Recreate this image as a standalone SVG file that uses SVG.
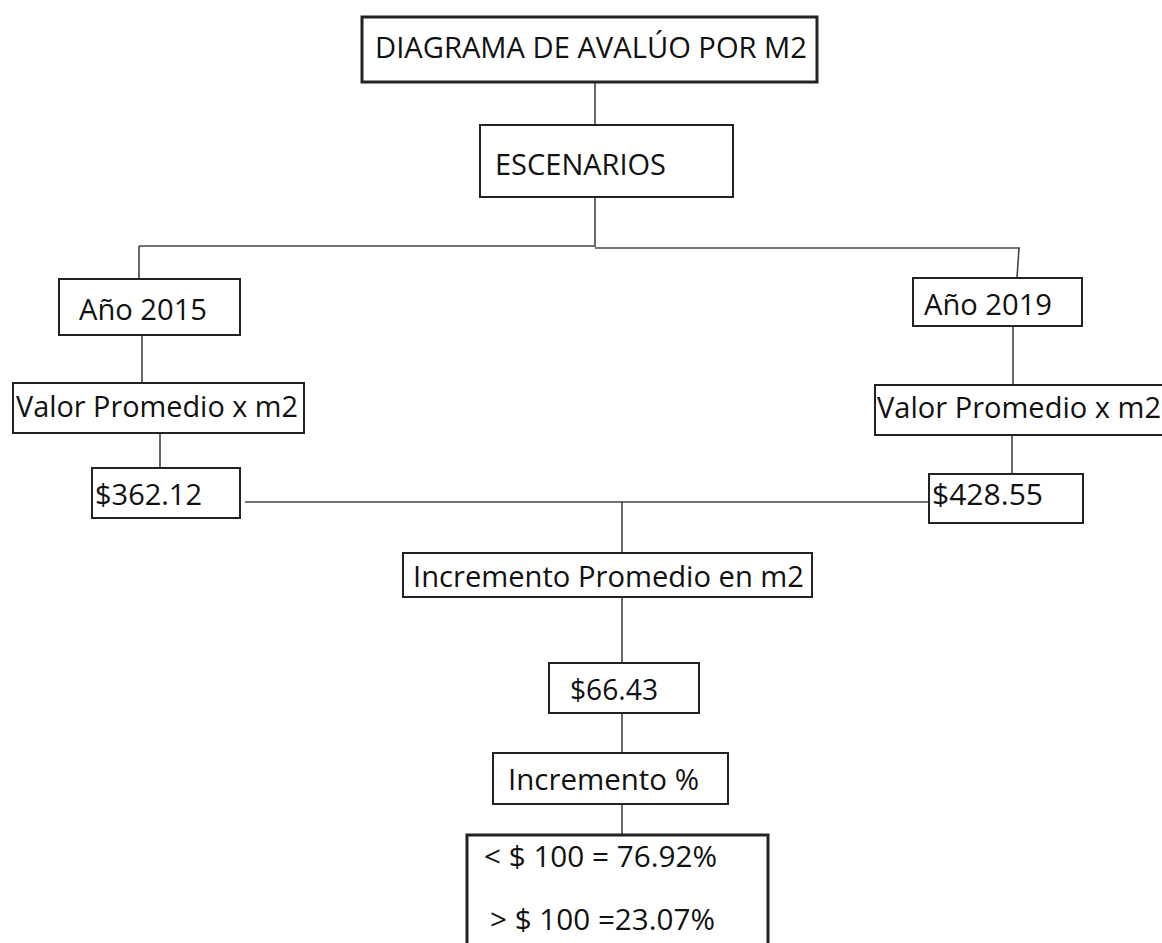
<svg xmlns="http://www.w3.org/2000/svg" width="1162" height="943" viewBox="0 0 1162 943">
<style>
.box{fill:#fff;stroke:#222;stroke-width:2}
.bold{stroke-width:3}
.t{font-family:"Open Sans","Noto Sans","Liberation Sans",sans-serif;font-size:29px;fill:#111}
.c{fill:none;stroke:#444;stroke-width:1.6}
</style>
<rect width="1162" height="943" fill="#fff"/>
<g id="connectors">
<path class="c" d="M595 82V125"/>
<path class="c" d="M595 197V247"/>
<path class="c" d="M139 246H595"/>
<path class="c" d="M595 248H1020"/>
<path class="c" d="M139 246V279"/>
<path class="c" d="M1019 248L1017 278"/>
<path class="c" d="M142 335V383"/>
<path class="c" d="M1013 326V385"/>
<path class="c" d="M160 433V468"/>
<path class="c" d="M1012 435V474"/>
<path class="c" d="M245 502H933"/>
<path class="c" d="M622 502V553"/>
<path class="c" d="M622 597V663"/>
<path class="c" d="M622 713V753"/>
<path class="c" d="M622 804V835"/>
</g>
<g id="title">
<rect class="box bold" x="362" y="17" width="455" height="65"/>
<text class="t" x="375" y="58" font-size="32" textLength="432" lengthAdjust="spacingAndGlyphs">DIAGRAMA DE AVALÚO POR M2</text>
</g>
<g id="escenarios">
<rect class="box" x="480" y="125" width="253" height="72"/>
<text class="t" x="495" y="175" textLength="171" lengthAdjust="spacingAndGlyphs">ESCENARIOS</text>
</g>
<g id="anio2015">
<rect class="box" x="59" y="279" width="181" height="56"/>
<text class="t" x="79" y="320" textLength="128" lengthAdjust="spacingAndGlyphs">Año 2015</text>
</g>
<g id="valor2015">
<rect class="box" x="13" y="383" width="291" height="50"/>
<text class="t" x="16" y="417" textLength="282" lengthAdjust="spacingAndGlyphs">Valor Promedio x m2</text>
</g>
<g id="v362">
<rect class="box" x="92" y="468" width="148" height="50"/>
<text class="t" x="95" y="505" textLength="107" lengthAdjust="spacingAndGlyphs">$362.12</text>
</g>
<g id="anio2019">
<rect class="box" x="913" y="278" width="169" height="48"/>
<text class="t" x="924" y="315" textLength="128" lengthAdjust="spacingAndGlyphs">Año 2019</text>
</g>
<g id="valor2019">
<rect class="box" x="875" y="385" width="300" height="50"/>
<text class="t" x="877" y="418" textLength="284" lengthAdjust="spacingAndGlyphs">Valor Promedio x m2</text>
</g>
<g id="v428">
<rect class="box" x="929" y="474" width="154" height="49"/>
<text class="t" x="932" y="505" textLength="111" lengthAdjust="spacingAndGlyphs">$428.55</text>
</g>
<g id="incremento-promedio">
<rect class="box" x="403" y="553" width="409" height="44"/>
<text class="t" x="413" y="587" textLength="391" lengthAdjust="spacingAndGlyphs">Incremento Promedio en m2</text>
</g>
<g id="v66">
<rect class="box" x="549" y="663" width="150" height="50"/>
<text class="t" x="570" y="700" textLength="88" lengthAdjust="spacingAndGlyphs">$66.43</text>
</g>
<g id="incremento-pct">
<rect class="box" x="493" y="753" width="235" height="51"/>
<text class="t" x="508" y="790" textLength="191" lengthAdjust="spacingAndGlyphs">Incremento %</text>
</g>
<g id="resultado">
<rect class="box bold" x="467" y="835" width="301" height="130"/>
<text class="t" x="484" y="867" textLength="233" lengthAdjust="spacingAndGlyphs">&lt; $ 100 = 76.92%</text>
<text class="t" x="490" y="930" textLength="225" lengthAdjust="spacingAndGlyphs">&gt; $ 100 =23.07%</text>
</g>
</svg>
